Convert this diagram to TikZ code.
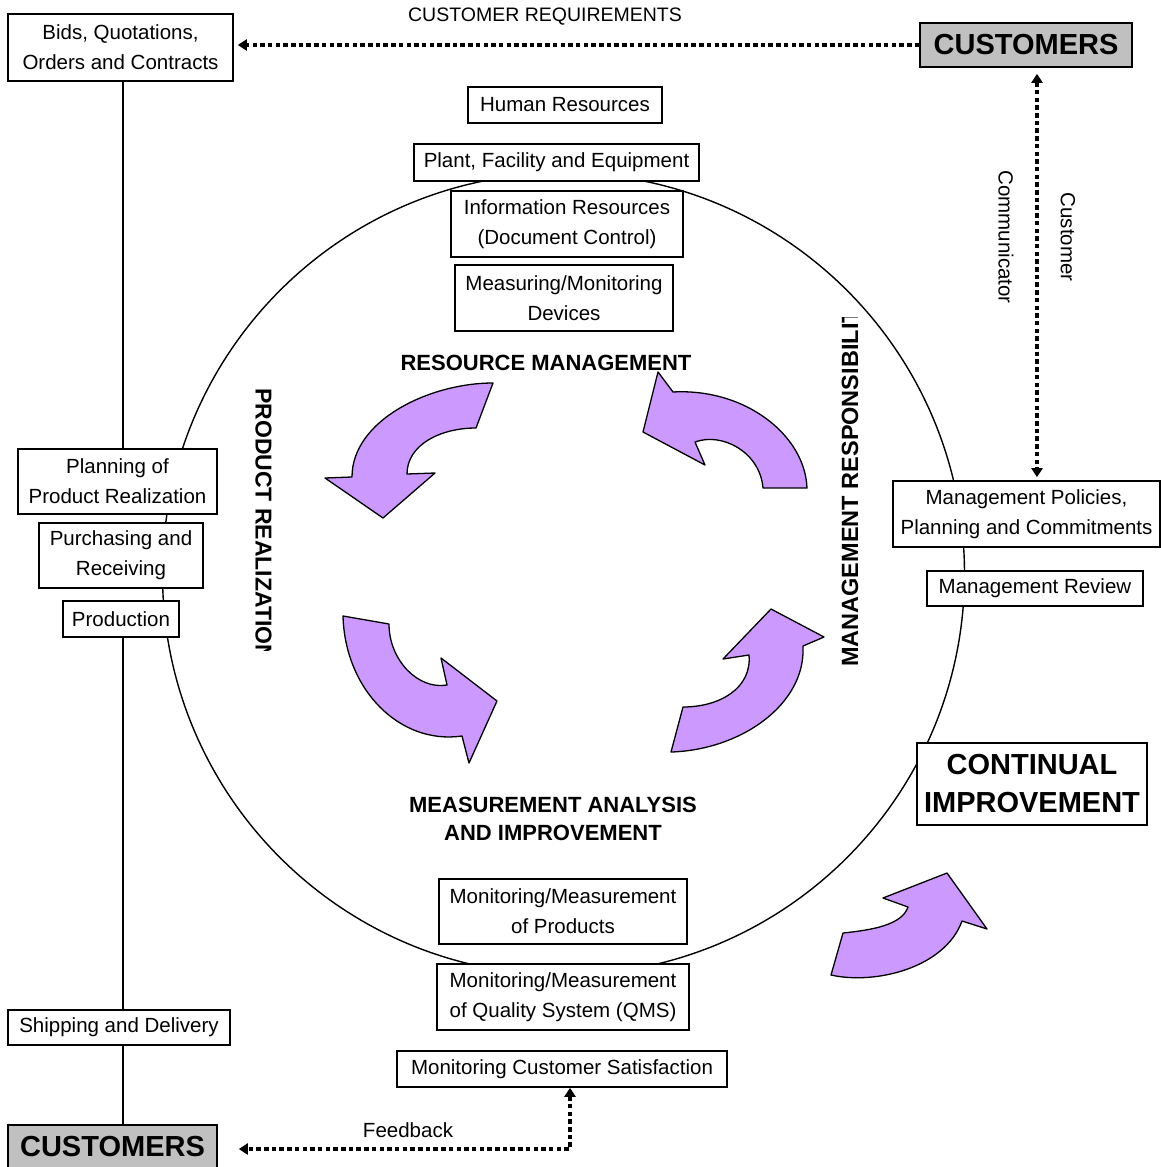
\documentclass[tikz,border=0pt]{standalone}
\usepackage{fontspec}
\setmainfont{Liberation Sans}
\usetikzlibrary{arrows.meta}
\definecolor{lav}{HTML}{CC99FF}
\definecolor{cgray}{HTML}{C0C0C0}
\begin{document}
\begin{tikzpicture}[x=1pt,y=-1pt,
  >={Triangle[length=9pt,width=11pt]},
  box/.style={draw, line width=1.6pt, fill=white, inner sep=0pt, align=center,
    font=\fontsize{20.5}{30}\selectfont},
  gbox/.style={draw, line width=1.6pt, fill=cgray, inner sep=0pt, align=center,
    font=\fontsize{29}{36}\selectfont\bfseries},
  lbl/.style={inner sep=0pt, align=center, font=\fontsize{20.5}{30}\selectfont},
  blbl/.style={inner sep=0pt, align=center, font=\fontsize{22}{28}\selectfont\bfseries},
  arr/.style={fill=lav, draw=black, line width=1.3pt, line join=round},
  dots/.style={line width=3.5pt, dash pattern=on 4.5pt off 3.2pt},
  conn/.style={line width=1.4pt}
]
\useasboundingbox (0,0) rectangle (1161,1167);
\fill[white] (0,0) rectangle (1161,1167);

% big circle
\node[circle, draw, line width=1.4pt, minimum size=802pt, inner sep=0pt] (cyc) at (563.5,574) {};

% coordinates for connector columns
\coordinate (colx) at (123,0);
\coordinate (vx) at (1037,0);
\coordinate (fx) at (570,0);
\coordinate (fy) at (0,1149);

% left column boxes
\node[box, minimum width=225pt, minimum height=67pt] (bids) at (120.5,47.5) {Bids, Quotations,\\Orders and Contracts};
\node[box, minimum width=199pt, minimum height=65pt] (plan) at (117.5,481.5) {Planning of\\Product Realization};
\node[box, minimum width=164pt, minimum height=65pt] (purch) at (121,555.5) {Purchasing and\\Receiving};
\node[box, minimum width=116pt, minimum height=36pt] (prod) at (121,619) {Production};
\node[box, minimum width=222pt, minimum height=35pt] (ship) at (119,1027.5) {Shipping and Delivery};
\node[gbox, minimum width=209pt, minimum height=44pt, anchor=north] (cb) at (112.5,1124) {CUSTOMERS};

% top
\node[gbox, minimum width=212pt, minimum height=44pt] (ct) at (1026,45) {CUSTOMERS};
\node[lbl, font=\fontsize{19.5}{24}\selectfont] (creq) at (545,17) {CUSTOMER REQUIREMENTS};

% resources
\node[box, minimum width=194pt, minimum height=36pt] (hr) at (565,105) {Human Resources};
\node[box, minimum width=285pt, minimum height=37pt] (plant) at (556.5,162.5) {Plant, Facility and Equipment};
\node[box, minimum width=232pt, minimum height=66pt] (info) at (567,224) {Information Resources\\(Document Control)};
\node[box, minimum width=218pt, minimum height=66pt] (meas) at (564,298) {Measuring/Monitoring\\Devices};

% right side
\node[box, minimum width=267pt, minimum height=66pt] (mp) at (1026.5,514) {Management Policies,\\Planning and Commitments};
\node[box, minimum width=216pt, minimum height=35pt] (mrev) at (1035,588.5) {Management Review};
\node[box, minimum width=230pt, minimum height=82pt, font=\fontsize{29}{38}\selectfont\bfseries] (ci) at (1032,784) {CONTINUAL\\IMPROVEMENT};
\node[lbl, rotate=-90] (cust) at (1068,237) {Customer};
\node[lbl, rotate=-90] (comm) at (1006,237) {Communicator};

% bottom
\node[box, minimum width=248pt, minimum height=65pt] (mprod) at (563,911.5) {Monitoring/Measurement\\of Products};
\node[box, minimum width=252pt, minimum height=66pt] (qms) at (563,997) {Monitoring/Measurement\\of Quality System (QMS)};
\node[box, minimum width=330pt, minimum height=36pt] (mcs) at (562,1069) {Monitoring Customer Satisfaction};
\node[lbl] (fb) at (408,1130) {Feedback};

% section titles
\node[blbl] (rm) at (546,363) {RESOURCE MANAGEMENT};
\node[blbl] (mai) at (553,819) {MEASUREMENT ANALYSIS\\AND IMPROVEMENT};
\begin{scope}
  \clip (235,300) rectangle (295,650);
  \node[blbl, font=\fontsize{23}{28}\selectfont\bfseries, rotate=-90, anchor=west] (pr) at (263.5,388) {PRODUCT REALIZATION};
\end{scope}
\begin{scope}
  \clip (820,317) rectangle (880,700);
  \node[blbl, font=\fontsize{23.5}{28}\selectfont\bfseries, fill=white, inner ysep=8pt, rotate=90, anchor=west] (mresp) at (850,667) {MANAGEMENT RESPONSIBILITY};
\end{scope}

% connectors
\draw[conn] (bids.south -| colx) -- (plan.north -| colx);
\draw[conn] (prod.south -| colx) -- (ship.north -| colx);
\draw[conn] (ship.south -| colx) -- (cb.north -| colx);
\draw[dots, ->, shorten >=4pt] (ct.west) -- (bids.east |- ct.west);
\draw[dots, <->, shorten <=6pt, shorten >=3pt] (ct.south -| vx) -- (mp.north -| vx);
\draw[dots, <->] (mcs.south -| fx) -- (fx |- fy) -- ([xshift=21pt]cb.east |- fy);

% purple circular arrows
\filldraw[arr] (493,383) .. controls (430,383) and (352,420) .. (352,477)
  -- (325,478) -- (383,518) -- (435,473) -- (407,474)
  .. controls (407,445) and (440,428) .. (476,428) -- cycle;
\filldraw[arr] (807,488) .. controls (805,435) and (745,388) .. (673,392)
  -- (658,372) -- (643,432) -- (705,465) -- (695,442)
  .. controls (722,432) and (760,452) .. (763,488) -- cycle;
\filldraw[arr] (343,616) -- (389,624)
  .. controls (389,660) and (418,690) .. (447,685)
  -- (441,658) -- (497,701) -- (469,763) -- (462,736)
  .. controls (400,745) and (345,690) .. cycle;
\filldraw[arr] (671,752) -- (683,707)
  .. controls (720,707) and (752,688) .. (749,655)
  -- (723,659) -- (771,609) -- (824,637) -- (803,646)
  .. controls (806,705) and (740,750) .. cycle;
\filldraw[arr] (831,975) -- (843,933)
  .. controls (872,930) and (902,925) .. (908,907)
  -- (883,898) -- (947,873) -- (987,929) -- (962,921)
  .. controls (945,968) and (875,985) .. cycle;
\end{tikzpicture}
\end{document}
